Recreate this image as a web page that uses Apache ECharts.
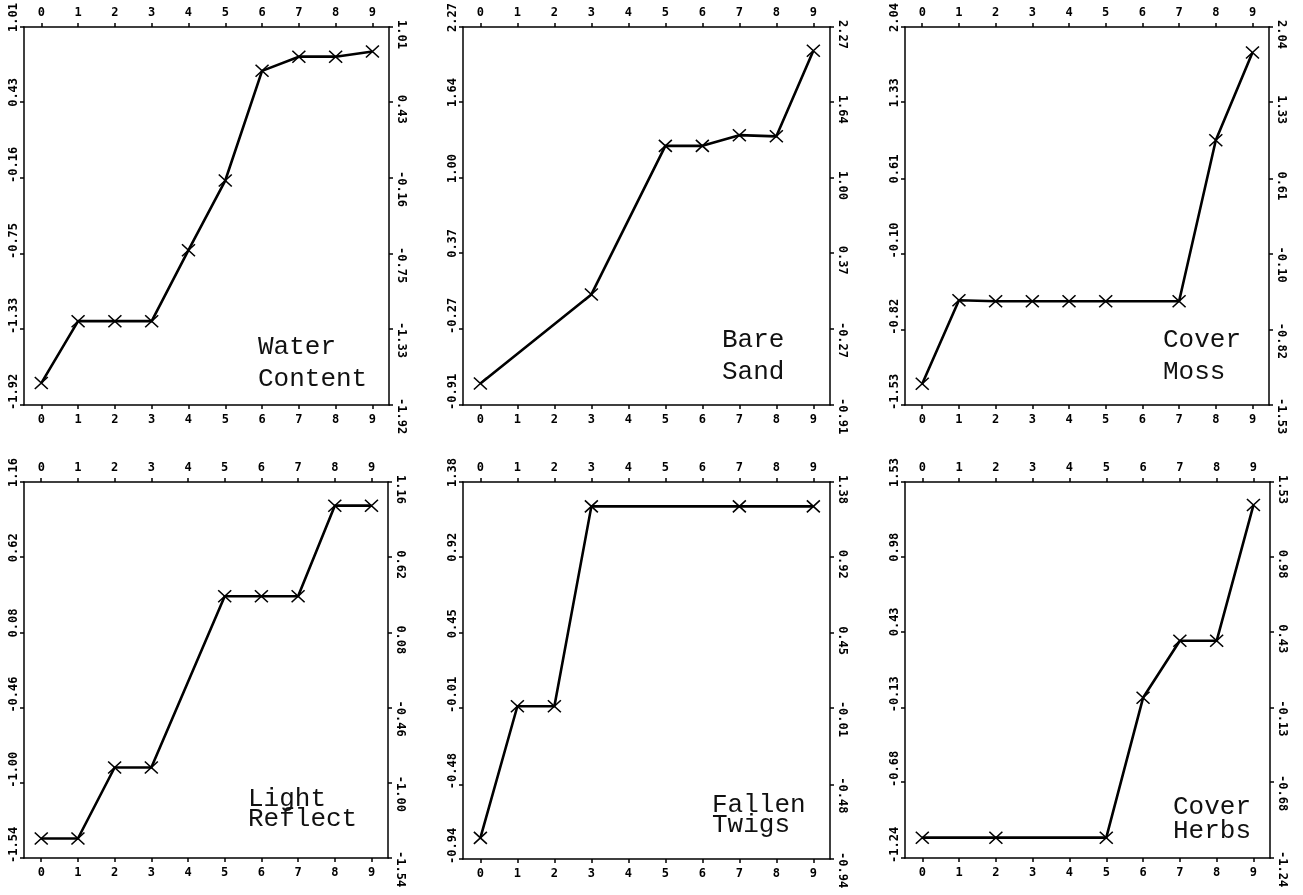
<!DOCTYPE html>
<html><head><meta charset="utf-8">
<script src="https://cdn.jsdelivr.net/npm/echarts@6/dist/echarts.min.js"></script>
<style>html,body{margin:0;padding:0;background:#fff}#c{width:1303px;height:895px}</style>
</head><body><div id="c"></div>
<script>
// ---- data ----
const xTicks = [0, 1, 2, 3, 4, 5, 6, 7, 8, 9];

const waterX = [0, 1, 2, 3, 4, 5, 6, 7, 8, 9];
const waterY = [-1.75, -1.27, -1.27, -1.27, -0.72, -0.18, 0.67, 0.78, 0.78, 0.82];
const waterTicks = [-1.92, -1.33, -0.75, -0.16, 0.43, 1.01];

const sandX = [0, 3, 5, 6, 7, 8, 9];
const sandY = [-0.73, 0.02, 1.27, 1.27, 1.36, 1.35, 2.07];
const sandTicks = [-0.91, -0.27, 0.37, 1.00, 1.64, 2.27];

const mossX = [0, 1, 2, 3, 4, 5, 7, 8, 9];
const mossY = [-1.33, -0.54, -0.55, -0.55, -0.55, -0.55, -0.55, 0.97, 1.80];
const mossTicks = [-1.53, -0.82, -0.10, 0.61, 1.33, 2.04];

const lightX = [0, 1, 2, 3, 5, 6, 7, 8, 9];
const lightY = [-1.40, -1.40, -0.89, -0.89, 0.34, 0.34, 0.34, 0.99, 0.99];
const lightTicks = [-1.54, -1.00, -0.46, 0.08, 0.62, 1.16];

const twigsX = [0, 1, 2, 3, 7, 9];
const twigsY = [-0.81, 0.00, 0.00, 1.23, 1.23, 1.23];
const twigsTicks = [-0.94, -0.48, -0.01, 0.45, 0.92, 1.38];

const herbsX = [0, 2, 5, 6, 7, 8, 9];
const herbsY = [-1.09, -1.09, -1.09, -0.06, 0.36, 0.36, 1.36];
const herbsTicks = [-1.24, -0.68, -0.13, 0.43, 0.98, 1.53];

const panelNames = [
  ['Water', 'Content'], ['Bare', 'Sand'], ['Cover', 'Moss'],
  ['Light', 'Reflect'], ['Fallen', 'Twigs'], ['Cover', 'Herbs']
];

// ---- layout ----
const panels = [
  { xs: waterX, ys: waterY, ticks: waterTicks },
  { xs: sandX, ys: sandY, ticks: sandTicks },
  { xs: mossX, ys: mossY, ticks: mossTicks },
  { xs: lightX, ys: lightY, ticks: lightTicks },
  { xs: twigsX, ys: twigsY, ticks: twigsTicks },
  { xs: herbsX, ys: herbsY, ticks: herbsTicks }
];
const grids = [
  { left: 24, top: 27, width: 365, height: 378 },
  { left: 463, top: 27, width: 367, height: 378 },
  { left: 905, top: 27, width: 364, height: 378 },
  { left: 24, top: 482, width: 364, height: 376 },
  { left: 463, top: 482, width: 367, height: 377 },
  { left: 905, top: 482, width: 365, height: 376 }
];
const notePos = [[258, 355, 387], [722, 348, 380], [1163, 348, 380], [248, 807, 827], [712, 813, 833], [1173, 815, 839]];

const INK = '#000';
const lineSt = { color: INK, width: 1.5 };
const tickFont = { color: INK, fontFamily: 'DejaVu Sans Mono', fontSize: 12, fontWeight: 'bold' };

function mkX(i, pos) {
  return {
    type: 'value', gridIndex: i, position: pos, min: -0.47, max: 9.45,
    axisLine: { onZero: false, lineStyle: lineSt },
    axisTick: { customValues: xTicks, length: 4, lineStyle: lineSt },
    axisLabel: Object.assign({ customValues: xTicks, margin: pos === 'top' ? 8 : 9,
      formatter: v => String(Math.round(v)) }, tickFont),
    splitLine: { show: false }
  };
}
function mkY(i, pos, ticks) {
  const left = pos === 'left';
  return {
    type: 'value', gridIndex: i, position: pos, min: ticks[0], max: ticks[ticks.length - 1],
    axisLine: { onZero: false, lineStyle: lineSt },
    axisTick: { customValues: ticks, length: 4, lineStyle: lineSt },
    axisLabel: Object.assign({ customValues: ticks, rotate: left ? 90 : -90,
      align: 'left', verticalAlign: 'bottom', margin: left ? 4 : 6,
      padding: [0, 0, 0, left ? -5 : -7],
      formatter: v => v.toFixed(2) }, tickFont),
    splitLine: { show: false }
  };
}

const xAxes = [], yAxes = [], series = [], graphics = [];
panels.forEach((p, i) => {
  xAxes.push(mkX(i, 'bottom'), mkX(i, 'top'));
  yAxes.push(mkY(i, 'left', p.ticks), mkY(i, 'right', p.ticks));
  series.push({
    type: 'line', xAxisIndex: 2 * i, yAxisIndex: 2 * i,
    data: p.xs.map((x, k) => [x, p.ys[k]]),
    symbol: 'path://M0,0L12,11M12,0L0,11', symbolSize: [13, 12],
    lineStyle: { color: INK, width: 2.6 },
    itemStyle: { color: INK, borderColor: INK, borderWidth: 1.5 },
    emphasis: { disabled: true }
  });
  const np = notePos[i];
  panelNames[i].forEach((t, k) => {
    graphics.push({
      type: 'text', x: np[0], y: np[1 + k] - 8, z: 10,
      style: { text: t, font: '26px "Liberation Mono"', fill: '#111',
        align: 'left', verticalAlign: 'middle' }
    });
  });
});

const chart = echarts.init(document.getElementById('c'), null, { renderer: 'canvas' });
chart.setOption({
  animation: false,
  backgroundColor: '#fff',
  grid: grids,
  xAxis: xAxes,
  yAxis: yAxes,
  series: series,
  graphic: graphics
});
</script></body></html>
